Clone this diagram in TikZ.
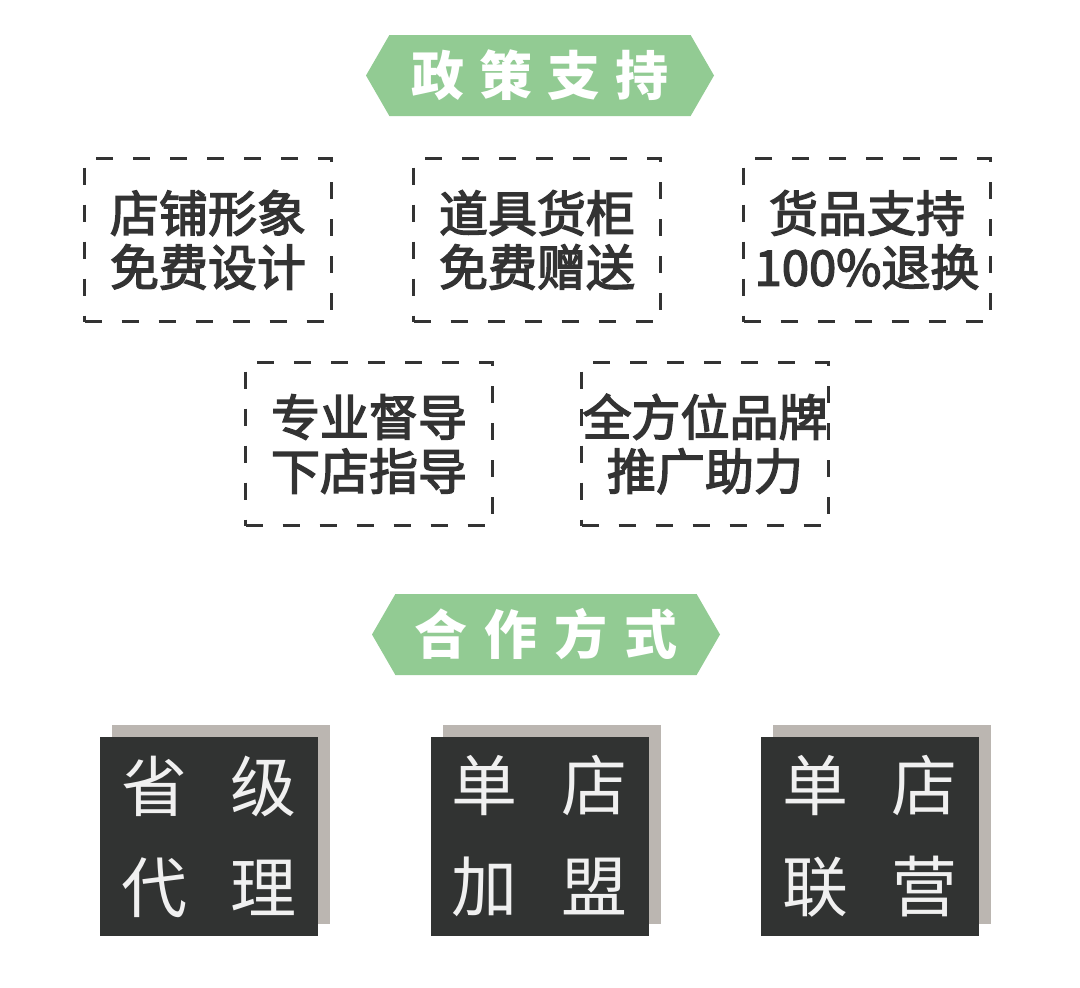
\documentclass[tikz,border=0pt]{standalone}
\usepackage{fontspec}
\newfontfamily\cjk{Noto Sans CJK SC}
\newfontfamily\cjkmed{Noto Sans CJK SC}[FakeBold=3]
\usetikzlibrary{shapes.symbols,shadows}
\definecolor{bannergreen}{HTML}{92CB93}
\definecolor{inkgray}{HTML}{333333}
\definecolor{cardgray}{HTML}{313332}
\definecolor{shadowgray}{HTML}{BBB6B1}
\definecolor{cardtext}{HTML}{F0F0F0}

\begin{document}
\begin{tikzpicture}[x=1pt,y=-1pt,
    banner/.style={shape=signal, signal to=west and east, signal pointer angle=120, fill=bannergreen, minimum width=348pt, minimum height=81pt, inner sep=0pt, text=white, font=\cjk\bfseries\fontsize{53}{53}\selectfont},
    perk/.style={draw=inkgray, line width=3pt, dash pattern=on 17pt off 20pt, minimum width=247pt, minimum height=163pt, inner sep=0pt, text=inkgray, align=center, font=\cjkmed\fontsize{49}{54}\selectfont},
    card/.style={fill=cardgray, minimum width=218pt, minimum height=199pt, inner sep=0pt, text=cardtext, align=center, font=\cjk\fontsize{66}{101}\selectfont, drop shadow={shadow xshift=12pt, shadow yshift=12pt, fill=shadowgray, opacity=1}}]
    \useasboundingbox (0,0) rectangle (1080,988);
    % policy support
    \node[banner] (zhengce) at (540,75.5) {政\hspace{15pt}策\hspace{15pt}支\hspace{15pt}持};
    \node[perk] (dianpu) at (208,240) {店铺形象\\免费设计};
    \node[perk] (daoju) at (537,240) {道具货柜\\免费赠送};
    \node[perk] (huopin) at (867,240) {货品支持\\100\%退换};
    \node[perk] (dudao) at (369,444) {专业督导\\下店指导};
    \node[perk] (pinpai) at (705,444) {全方位品牌\\推广助力};
    % cooperation
    \node[banner] (hezuo) at (546,634.5) {合\hspace{17pt}作\hspace{17pt}方\hspace{17pt}式};
    \node[card] (shengji) at (209,836.5) {省\hspace{44pt}级\\代\hspace{44pt}理};
    \node[card] (jiameng) at (539.5,836.5) {单\hspace{44pt}店\\加\hspace{44pt}盟};
    \node[card] (lianying) at (870,836.5) {单\hspace{44pt}店\\联\hspace{44pt}营};
\end{tikzpicture}
\end{document}
